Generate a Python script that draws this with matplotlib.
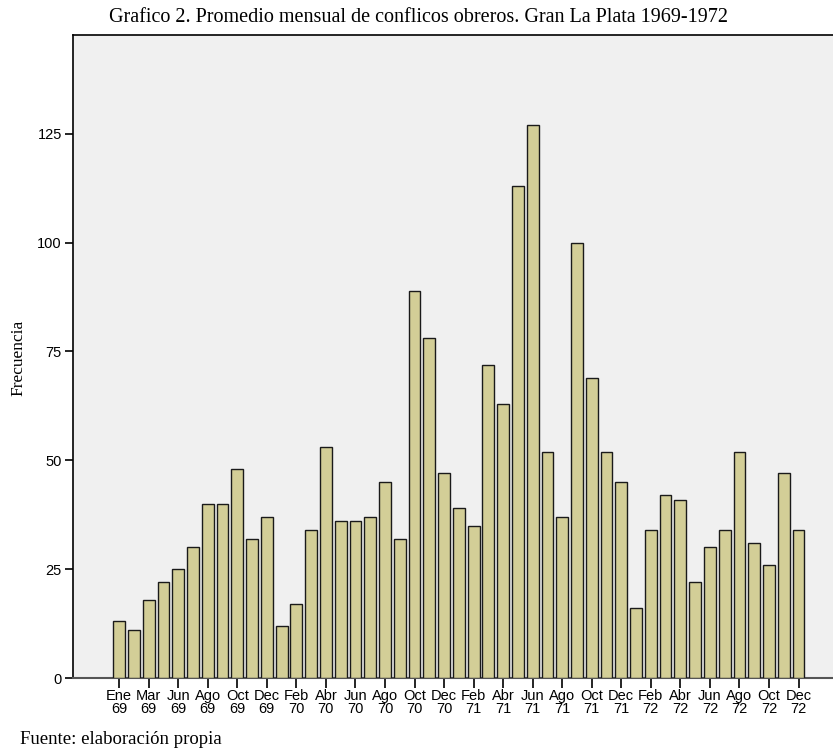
import matplotlib
matplotlib.use("Agg")
import matplotlib.pyplot as plt
import numpy as np

months_1969 = ["Ene", "Feb", "Mar", "Abr", "Jun", "Jul", "Ago", "Sep", "Oct", "Nov", "Dec"]
months_full = ["Ene", "Feb", "Mar", "Abr", "May", "Jun", "Jul", "Ago", "Sep", "Oct", "Nov", "Dec"]
years = ["69", "70", "71", "72"]

categories = ([f"{m}\n69" for m in months_1969] +
              [f"{m}\n{y}" for y in years[1:] for m in months_full])

values_1969 = [13, 11, 18, 22, 25, 30, 40, 40, 48, 32, 37]
values_1970 = [12, 17, 34, 53, 36, 36, 37, 45, 32, 89, 78, 47]
values_1971 = [39, 35, 72, 63, 113, 127, 52, 37, 100, 69, 52, 45]
values_1972 = [16, 34, 42, 41, 22, 30, 34, 52, 31, 26, 47, 34]
values = values_1969 + values_1970 + values_1971 + values_1972

y_ticks = [0, 25, 50, 75, 100, 125]

W, H = 833, 749
fig = plt.figure(figsize=(W / 100, H / 100), dpi=100)
fig.patch.set_facecolor("white")
ax = fig.add_axes([73 / W, 1 - 678 / H, (W - 73) / W + 0.01, (678 - 35) / H])
ax.set_facecolor("#F0F0F0")

x = np.arange(len(values))
ax.bar(x, values, width=0.8, color="#D3CE97", edgecolor="#1a1a1a", linewidth=1.0, zorder=3)

ax.set_xlim(-3.125, 48.9)
ax.set_ylim(0, 147.7)

ax.set_yticks(y_ticks)
ax.set_yticklabels([str(v) for v in y_ticks], fontsize=10.5, family="Liberation Sans")
ax.set_xticks(x[::2])
ax.set_xticklabels(categories[::2], fontsize=10.5, family="Liberation Sans", linespacing=0.9)
ax.tick_params(axis="y", length=6, width=1.2, pad=2, direction="out")
ax.tick_params(axis="x", length=7, width=1.2, pad=1, direction="out")

for side in ["left", "top"]:
    ax.spines[side].set_color("black")
    ax.spines[side].set_linewidth(1.2)
ax.spines["bottom"].set_color("#555555")
ax.spines["bottom"].set_linewidth(1.5)
ax.spines["right"].set_visible(False)

fig.text(419 / W, 1 - 17 / H,
         "Grafico 2. Promedio mensual de conflicos obreros. Gran La Plata 1969-1972",
         ha="center", va="center", fontsize=14.5, family="Liberation Serif")
fig.text(18 / W, 1 - 358 / H, "Frecuencia", rotation=90, ha="center", va="center",
         fontsize=12.5, family="Liberation Serif")
fig.text(20 / W, 1 - 740 / H, "Fuente: elaboración propia", ha="left", va="center",
         fontsize=13.5, family="Liberation Serif")

fig.savefig("out.png", dpi=100)
